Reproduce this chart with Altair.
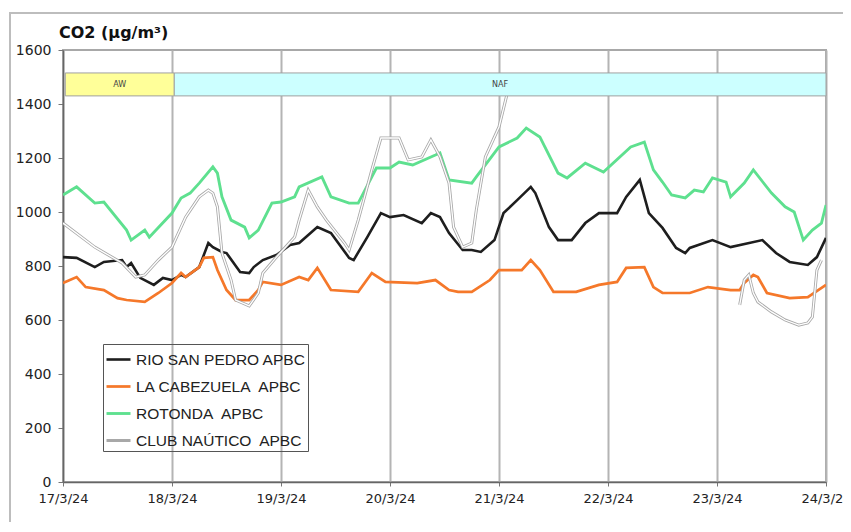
import altair as alt
import pandas as pd

# ---------------- data ----------------
title_text = "CO2 (µg/m³)"
day_labels = ["17/3/24", "18/3/24", "19/3/24", "20/3/24", "21/3/24",
              "22/3/24", "23/3/24", "24/3/24"]
series_names = ["RIO SAN PEDRO APBC", "LA CABEZUELA\u00a0 APBC",
                "ROTONDA\u00a0 APBC", "CLUB NAÚTICO\u00a0 APBC"]
series_colors = ["#1e1e1e", "#f5782a", "#5ee08f", "#a8a8a8"]
series_widths = [2.6, 3.0, 2.6, 3.6]

# hours since 17/3/24 00:00 and CO2 values
rio_h = [0, 3, 7, 9, 13, 14, 15, 17, 20, 22, 24, 26, 27, 30, 32, 33, 35, 36, 39, 41,
         42, 44, 47, 50, 52, 56, 59, 63, 64, 67, 70, 72, 75, 79, 81, 83, 85, 88, 90, 92,
         95, 97, 100, 103, 104, 107, 109, 112, 115, 118, 122, 124, 127, 129, 132, 135,
         137, 138, 143, 147, 154, 157, 160, 164, 166, 168]
rio_v = [833, 830, 796, 815, 822, 796, 811, 756, 730, 756, 748, 767, 759, 796, 885, 870,
         852, 848, 778, 774, 796, 822, 841, 878, 885, 944, 922, 830, 822, 907, 996, 981,
         989, 959, 996, 981, 922, 859, 859, 852, 896, 996, 1044, 1093, 1070, 944, 896,
         896, 959, 996, 996, 1056, 1119, 996, 941, 867, 848, 867, 896, 870, 896, 848,
         815, 804, 833, 904]

cab_h = [0, 3, 5, 9, 12, 14, 18, 21, 24, 26, 27, 30, 31, 33, 34, 36, 38, 41, 43, 44,
         48, 52, 54, 56, 59, 65, 68, 71, 78, 82, 85, 87, 90, 94, 96, 101, 103, 105, 108,
         113, 118, 122, 124, 128, 130, 132, 138, 142, 147, 149, 150, 152, 153, 155, 160,
         164, 168]
cab_v = [737, 759, 722, 711, 681, 674, 667, 700, 737, 774, 759, 796, 830, 833, 785, 711,
         674, 674, 711, 741, 730, 759, 748, 793, 711, 704, 774, 741, 737, 748, 711, 704,
         704, 748, 785, 785, 822, 785, 704, 704, 730, 741, 793, 796, 722, 700, 700, 722,
         711, 711, 737, 767, 759, 700, 681, 685, 730]

rot_h = [0, 3, 7, 9, 14, 15, 18, 19, 24, 26, 28, 30, 33, 34, 35, 37, 40, 41, 43, 46,
         48, 51, 52, 57, 59, 63, 65, 68, 69, 72, 74, 77, 82, 83, 85, 90, 91, 96, 100, 102,
         105, 109, 111, 115, 119, 125, 128, 130, 132, 134, 137, 139, 141, 143, 146, 147,
         150, 152, 156, 159, 161, 163, 165, 167, 168]
rot_v = [1063, 1093, 1033, 1037, 933, 896, 933, 907, 996, 1052, 1070, 1107, 1167, 1144,
         1056, 970, 944, 904, 933, 1033, 1037, 1056, 1093, 1130, 1056, 1033, 1033, 1130,
         1163, 1163, 1185, 1174, 1211, 1219, 1119, 1107, 1130, 1241, 1274, 1311, 1278,
         1144, 1126, 1181, 1148, 1241, 1259, 1156, 1111, 1063, 1052, 1081, 1074, 1126,
         1111, 1056, 1107, 1156, 1070, 1019, 1000, 896, 933, 959, 1026]

# None marks the gap in the record
club_h = [0, 7, 13, 16, 18, 21, 24, 27, 30, 32, 33, 34, 35, 37, 38, 41, 43, 44, 47, 51,
          52, 54, 56, 58, 62, 63, 65, 68, 70, 74, 76, 79, 81, 83, 85, 86, 88, 90, 91, 93,
          96, 98, 100, 124, 149, 150, 151, 152, 153, 156, 159, 162, 164, 165, 166, 167]
club_v = [959, 870, 811, 759, 767, 822, 870, 981, 1056, 1081, 1070, 1019, 848, 748, 674,
          652, 700, 774, 833, 907, 970, 1081, 1019, 970, 885, 859, 970, 1156, 1274, 1274,
          1193, 1204, 1267, 1205, 1107, 944, 870, 885, 1007, 1204, 1315, 1452, 1478, None,
          656, 748, 767, 700, 667, 630, 600, 581, 589, 611, 785, 822]

periods = ["AW", "NAF"]
period_start = [0.5, 24.5]
period_end = [24.5, 168]
period_fill = ["#ffff99", "#ccffff"]
band_low, band_high, band_text = 1430, 1515, 1472

# ---------------- tables ----------------
rows = []
for name, hs, vs in zip(series_names, [rio_h, cab_h, rot_h, club_h],
                        [rio_v, cab_v, rot_v, club_v]):
    seg = 0
    for h, v in zip(hs, vs):
        if v is None:
            seg += 1
            continue
        rows.append({"series": name, "hour": h, "value": v, "seg": seg})
df = pd.DataFrame(rows)

bands = pd.DataFrame({
    "period": periods, "start": period_start, "end": period_end,
    "fill": period_fill,
    "mid": [(a + b) / 2 for a, b in zip(period_start, period_end)],
    "lo": [band_low] * 2, "hi": [band_high] * 2, "ty": [band_text] * 2,
})

label_js = "[" + ",".join("'%s'" % s for s in day_labels) + "]"

x_enc = alt.X("hour:Q",
              scale=alt.Scale(domain=[0, 168], nice=False, zero=False),
              axis=alt.Axis(values=list(range(0, 169, 24)), title=None,
                            labelExpr=label_js + "[round(datum.value/24)]",
                            grid=True, gridColor="#b4b4b4", gridWidth=2,
                            tickSize=4, tickColor="#777", labelPadding=6,
                            domainColor="#666", domainWidth=1.5,
                            labelFont="DejaVu Sans", labelFontSize=13,
                            labelColor="#222", labelFlush=False))
y_enc = alt.Y("value:Q",
              scale=alt.Scale(domain=[0, 1600], nice=False),
              axis=alt.Axis(values=list(range(0, 1601, 200)), title=None,
                            format="d",
                            grid=False, tickSize=5, tickColor="#777",
                            labelPadding=7, domainColor="#666", domainWidth=1.5,
                            labelFont="DejaVu Sans", labelFontSize=14,
                            labelColor="#222"))

color_enc = alt.Color("series:N",
                      scale=alt.Scale(domain=series_names, range=series_colors),
                      legend=alt.Legend(title=None, orient="none",
                                        legendX=40, legendY=294))
width_enc = alt.StrokeWidth("series:N",
                            scale=alt.Scale(domain=series_names, range=series_widths),
                            legend=None)

base = alt.Chart(df)
lines = base.mark_line(clip=True).encode(
    x=x_enc, y=y_enc, color=color_enc, strokeWidth=width_enc,
    detail="seg:N", order="hour:Q")

club_inner = base.transform_filter(
    alt.datum.series == series_names[3]
).mark_line(color="white", strokeWidth=1.3, clip=True).encode(
    x="hour:Q", y="value:Q", detail="seg:N", order="hour:Q")

band_rects = alt.Chart(bands).mark_rect(stroke="#a0a0a0", strokeWidth=1).encode(
    x="start:Q", x2="end:Q", y="lo:Q", y2="hi:Q",
    fill=alt.Fill("fill:N", scale=None))
band_labels = alt.Chart(bands).mark_text(fontSize=8, color="#444",
                                         font="DejaVu Sans").encode(
    x="mid:Q", y="ty:Q", text="period:N")

frame = alt.Chart(pd.DataFrame({"k": [0]})).mark_rect(
    fillOpacity=0, stroke="#bdbdbd", strokeWidth=2, clip=False
).encode(x=alt.value(-53), x2=alt.value(820), y=alt.value(-37), y2=alt.value(620))

title_mark = alt.Chart(pd.DataFrame({"t": [title_text]})).mark_text(
    align="left", baseline="middle", font="DejaVu Sans", fontSize=16,
    fontWeight="bold", color="#111", clip=False
).encode(x=alt.value(-4), y=alt.value(-17), text="t:N")

chart = alt.layer(frame, lines, club_inner, band_rects, band_labels,
                  title_mark).properties(
    width=763, height=432,
    autosize=alt.AutoSizeParams(type="none"),
    padding={"left": 55, "top": 42, "right": 17, "bottom": 40},
).configure_view(
    stroke="#a8a8a8", strokeWidth=2
).configure_legend(
    symbolType="stroke", symbolSize=576, symbolStrokeWidth=2.5,
    labelFont="Liberation Sans", labelFontSize=15.5, labelColor="#222",
    labelLimit=300, labelOffset=4, rowPadding=5, padding=2,
    strokeColor="#555", cornerRadius=0
)

chart.save("out.html", embed_options={"renderer": "svg", "actions": False})
